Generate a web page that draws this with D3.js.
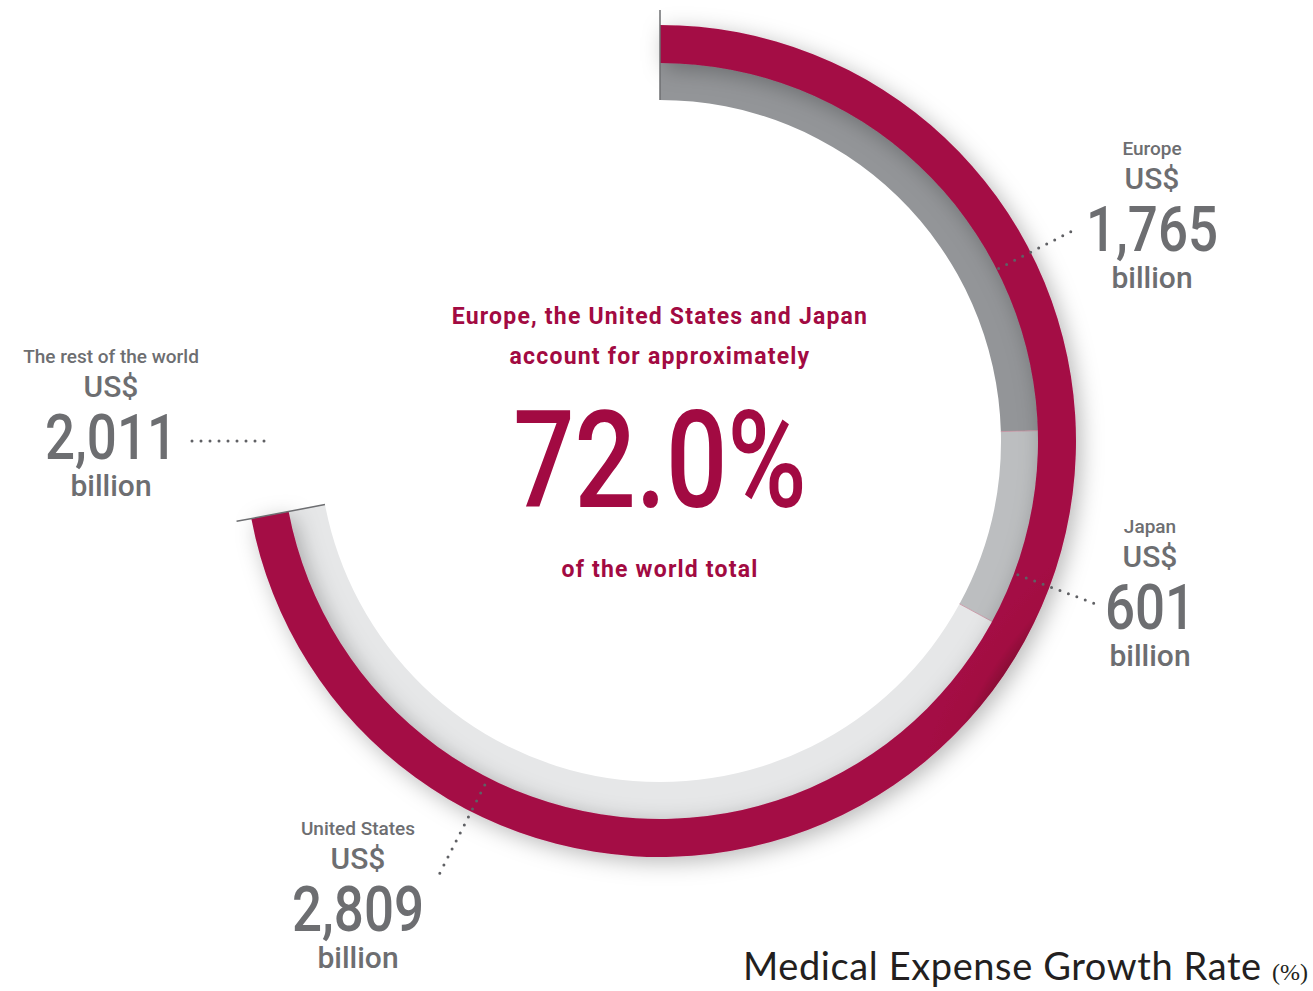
<!DOCTYPE html>
<meta charset="utf-8">
<style>
body { margin: 0; background: #fff; }
svg { display: block; }
.lbl { fill: #6d6e71; font-family: Roboto, sans-serif; text-anchor: middle; font-weight: 500; }
.hl { fill: #a20a42; font-family: Roboto, sans-serif; text-anchor: middle; }
</style>
<svg width="1313" height="991"></svg>
<script src="https://d3js.org/d3.v7.min.js"></script>
<script>

// medical spending, US$ billion
var regions = ["Europe", "Japan", "United States", "The rest of the world"];
var spending = [1765, 601, 2809, 2011];
var greys = ["#939598", "#bcbec0", "#e6e7e8", "none"];

var headline = ["Europe, the United States and Japan", "account for approximately"];
var footline = "of the world total";
var title = "Medical Expense Growth Rate";

var svg = d3.select("svg"),
    cx = 660, cy = 441,
    rOuter = 416, rMid = 378, rInner = 341;

var defs = svg.append("defs");

var shadow = defs.append("filter").attr("id", "shadow")
    .attr("x", "-20%").attr("y", "-20%").attr("width", "140%").attr("height", "140%");
shadow.append("feDropShadow")
    .attr("dx", 5).attr("dy", 5).attr("stdDeviation", 11)
    .attr("flood-color", "#000").attr("flood-opacity", 0.28);

var grad = defs.append("radialGradient").attr("id", "crimson")
    .attr("gradientUnits", "userSpaceOnUse")
    .attr("cx", cx).attr("cy", cy).attr("r", rOuter);
grad.append("stop").attr("offset", rMid / rOuter).attr("stop-color", "#8a0836");
grad.append("stop").attr("offset", 0.94).attr("stop-color", "#a20a42");
grad.append("stop").attr("offset", 1).attr("stop-color", "#a40b44");

var pie = d3.pie().sort(null).value(function(d) { return d; });
var arcs = pie(spending);

var g = svg.append("g").attr("transform", "translate(" + cx + "," + cy + ")");

// inner grey ring, one piece per region
var innerArc = d3.arc().innerRadius(rInner).outerRadius(rMid + 2);
g.selectAll("path.seg")
  .data(arcs.slice(0, 3))
  .enter().append("path")
    .attr("class", "seg")
    .attr("d", innerArc)
    .attr("fill", function(d, i) { return greys[i]; });

// thin boundaries between grey pieces
function polar(a, r) { return [r * Math.sin(a), -r * Math.cos(a)]; }
g.selectAll("line.bound")
  .data(arcs.slice(1, 3))
  .enter().append("line")
    .attr("class", "bound")
    .attr("x1", function(d) { return polar(d.startAngle, rInner)[0]; })
    .attr("y1", function(d) { return polar(d.startAngle, rInner)[1]; })
    .attr("x2", function(d) { return polar(d.startAngle, rMid)[0]; })
    .attr("y2", function(d) { return polar(d.startAngle, rMid)[1]; })
    .attr("stroke", "#c48c9c").attr("stroke-width", 0.8);

// outer crimson ring for the three regions together
var endAngle = arcs[2].endAngle;
var outerArc = d3.arc().innerRadius(rMid).outerRadius(rOuter);
g.append("path")
    .attr("d", outerArc({startAngle: 0, endAngle: endAngle}))
    .attr("fill", "url(#crimson)")
    .attr("filter", "url(#shadow)");

// end ticks
g.selectAll("line.edge")
  .data([0, endAngle])
  .enter().append("line")
    .attr("class", "edge")
    .attr("x1", function(a) { return polar(a, rInner)[0]; })
    .attr("y1", function(a) { return polar(a, rInner)[1]; })
    .attr("x2", function(a) { return polar(a, rOuter + 15)[0]; })
    .attr("y2", function(a) { return polar(a, rOuter + 15)[1]; })
    .attr("stroke", "#6d6e71").attr("stroke-width", 1.5);

// dotted leaders (angle in degrees, radius range)
var leaders = [
  {a: 63, r0: 380, r1: 467},
  {a: 110.5, r0: 382, r1: 470},
  {a: 207, r0: 386, r1: 490},
  {a: 270, r0: 396, r1: 476}
];
g.selectAll("line.leader")
  .data(leaders)
  .enter().append("line")
    .attr("class", "leader")
    .attr("x1", function(d) { return polar(d.a * Math.PI / 180, d.r0)[0]; })
    .attr("y1", function(d) { return polar(d.a * Math.PI / 180, d.r0)[1]; })
    .attr("x2", function(d) { return polar(d.a * Math.PI / 180, d.r1)[0]; })
    .attr("y2", function(d) { return polar(d.a * Math.PI / 180, d.r1)[1]; })
    .attr("stroke", "#5f6064")
    .attr("stroke-width", 3)
    .attr("stroke-linecap", "round")
    .attr("stroke-dasharray", "0,9");

// region labels
var labelPos = [[1152, 155], [1150, 533], [358, 835], [111, 363]];
var fmt = d3.format(",");
var label = svg.selectAll("g.label")
  .data(regions)
  .enter().append("g")
    .attr("class", "label")
    .attr("transform", function(d, i) { return "translate(" + labelPos[i] + ")"; });

label.append("text").attr("class", "lbl")
    .style("font-size", "19px")
    .text(function(d) { return d; });
label.append("text").attr("class", "lbl")
    .attr("y", 34)
    .style("font-size", "30px")
    .text("US$");
label.append("text").attr("class", "lbl")
    .attr("transform", "translate(0,96) scale(0.84,1)")
    .style("font-size", "63px")
    .text(function(d, i) { return fmt(spending[i]); });
label.append("text").attr("class", "lbl")
    .attr("y", 133)
    .style("font-size", "30px")
    .text("billion");

// centre text
var share = d3.sum(spending.slice(0, 3)) / d3.sum(spending);
svg.selectAll("text.head")
  .data(headline)
  .enter().append("text")
    .attr("class", "hl head")
    .attr("x", cx)
    .attr("y", function(d, i) { return 324 + i * 40; })
    .style("font-size", "23px")
    .style("font-weight", 700)
    .style("letter-spacing", "1.2px")
    .text(function(d) { return d; });

svg.append("text").attr("class", "hl")
    .attr("transform", "translate(" + cx + ",507) scale(0.8,1)")
    .style("font-size", "135px")
    .style("font-weight", 500)
    .text(d3.format(".1%")(share));

svg.append("text").attr("class", "hl")
    .attr("x", cx).attr("y", 577)
    .style("font-size", "23px")
    .style("font-weight", 700)
    .style("letter-spacing", "1.2px")
    .text(footline);

// title
var t = svg.append("text")
    .attr("x", 1308).attr("y", 980)
    .attr("text-anchor", "end")
    .style("fill", "#231f20");
t.append("tspan")
    .style("font-family", "Lato, sans-serif")
    .style("font-size", "38px")
    .style("letter-spacing", "0.6px")
    .text(title + " ");
t.append("tspan")
    .style("font-family", "'Liberation Serif', serif")
    .style("font-size", "24px")
    .text("(%)");

</script>
